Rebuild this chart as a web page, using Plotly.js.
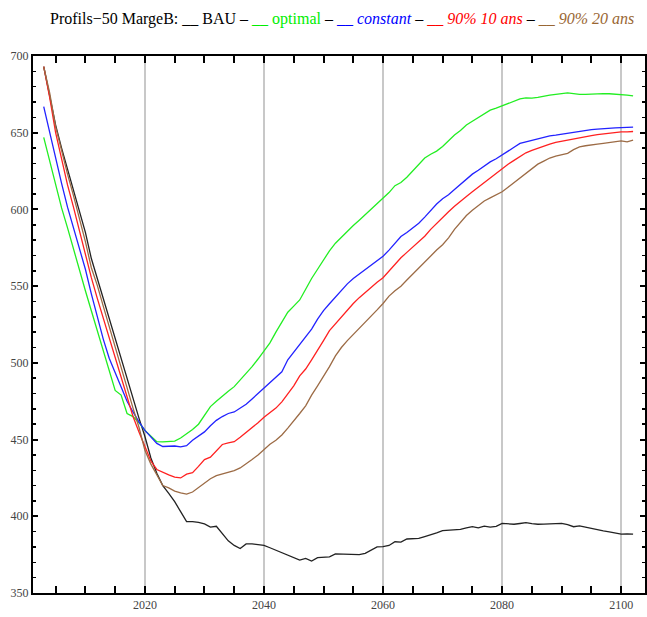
<!DOCTYPE html>
<html>
<head>
<meta charset="utf-8">
<script src="https://cdn.plot.ly/plotly-3.0.1.min.js"></script>
<style>html,body{margin:0;padding:0;background:#fff;}#chart{width:647px;height:617px;}</style>
</head>
<body>
<div id="chart"></div>
<script>
const years = [2003,2004,2005,2006,2007,2008,2009,2010,2011,2012,2013,2014,2015,2016,2017,2018,2019,2020,2021,2022,2023,2024,2025,2026,2027,2028,2029,2030,2031,2032,2033,2034,2035,2036,2037,2038,2039,2040,2041,2042,2043,2044,2045,2046,2047,2048,2049,2050,2051,2052,2053,2054,2055,2056,2057,2058,2059,2060,2061,2062,2063,2064,2065,2066,2067,2068,2069,2070,2071,2072,2073,2074,2075,2076,2077,2078,2079,2080,2081,2082,2083,2084,2085,2086,2087,2088,2089,2090,2091,2092,2093,2094,2095,2096,2097,2098,2099,2100,2101,2102];

const bau = [693,675,655,640,626,612,599,585,568,555,541,528,515,502,490,477,464,452,438,428,420,415,409.5,403,396.5,396.5,396,395,393,393.5,389,384,381,379,382,382,381.5,381,379.5,378,376.5,375,373.5,371.5,372.6,370.8,373,373.4,373.6,375.5,375.3,375.1,375,375,375.8,378,380,380.2,381,383.4,383.2,385.2,385.4,385.6,386.8,387.8,389.2,390.6,390.8,391,391.5,392.5,393.2,392.5,393.6,393,393.4,395.4,395,394.8,395.3,395.8,395.2,394.8,394.9,395,395.2,395.4,394.5,393.2,393.8,393,391.8,391,390.5,389.9,389,388.4,388.6,388.4];

const optimal = [647,632,617,601,588,574,560,547,534,521,508,494.5,482,479,467,465,461,456,452,448.6,448.5,448.6,449,451,453.5,456.5,460,466,471.5,475,478.5,481.5,484.5,488.8,493,497.5,502.5,507.5,513,520,527,533,537,541,548,555,561,567,573,578,582,586,589.5,593,596.5,600,603.5,607,611,615.5,617.5,621,625,629.5,633.5,636,638,641,645,648.5,651.5,655,657.5,660,662.5,664.7,666,667.5,669,670.5,672,672.7,672.5,673,674,674.5,675,675.5,676,675.5,675,675,675.3,675.6,675.5,675.4,675.2,675,674.5,674];

const constant = [667,650,633,617,601.5,588,576,561,545,530,515.5,503,494,485,475,468,461.5,456,451.5,447.5,445.5,445.5,445.8,445.2,446,449.5,452.5,455,459,462.5,465,467,468,470.5,473,476.5,480,483.4,487,490.5,494.2,502,507,512,516.5,522,528.5,534,538.5,543,547.5,551.5,555,558,561,564,567,569.5,573.5,578,582.3,585,588,591,595,599.5,603.5,607,609.5,613,616.5,620,623,625.5,628.5,631,633,635.3,638,640.5,643,644,645,646.3,647,648,648.4,649,650,650.6,651,651.5,652,652.4,652.8,653,653.2,653.3,653.4,653.6];

const p90_10 = [693,673,650,632,616,601.5,586,570,555.5,542,529,516,503,490,476.5,465,455,445.4,436,430.5,428.5,427,425.5,425,427.5,428.4,432.5,437,438.5,442.5,446.8,447.8,448.6,451.5,454.5,458,461,464.5,467.5,470.5,474.6,479.5,485,491.5,496,502,508,514.5,521,525.5,530,534.5,538.7,542.5,546,549.5,552.5,555.5,560,564.5,568.5,572,575.5,578.5,582.5,587,591,595,598.5,602,605.5,608.5,611.5,614.5,617.5,620.5,623.5,626.7,629.5,632,634.5,636.9,638.5,640,641.3,642.5,643.7,644.5,645.3,646.1,646.9,647.5,648.1,648.7,649.2,649.7,650.1,650.6,650.5,650.8];

const p90_20 = [693,676,654,638,623,609,594,579,562,550.5,537,523.5,510,497,483.5,470.5,458,443,434,426.5,420,418.5,416.4,415.2,414.5,415.8,418.5,421.5,424.5,426.5,427.5,428.5,429.8,431.5,434,437,440,443.5,447,449.5,453,457.5,462,467,472,479,485,491,497.5,504.5,510,514.5,518.5,522.5,526,530,534.5,538.7,543.5,547,550,554,558,562,566,570,573.5,577,581.5,587,591.5,596,599.5,602.3,605.5,607.5,609.5,611.5,614.5,617.5,620.5,624,627,629.5,631.5,633.5,634.8,635.8,636.6,639,640.8,641.5,642.2,642.6,643.1,643.6,644.1,644.7,644,645.1];

const seriesNames = ["BAU","optimal","constant","90% 10 ans","90% 20 ans"];
const seriesColors = ["#222222","#22ee22","#2222ff","#ff2020","#9c6b45"];
const seriesData = [bau, optimal, constant, p90_10, p90_20];

const xTickVals = [2020,2040,2060,2080,2100];
const xTickText = ["2020","2040","2060","2080","2100"];
const yTickVals = [350,400,450,500,550,600,650,700];
const yTickText = ["350","400","450","500","550","600","650","700"];

const traces = seriesData.map((d, i) => ({
  type: "scatter", mode: "lines", x: years, y: d, name: seriesNames[i],
  line: {color: seriesColors[i], width: 1.3}, hoverinfo: "skip"
}));

const sep = ' <span style="color:#000">–</span> ';
const titleText =
  '<span style="color:#000">Profils−50 MargeB: __ BAU</span>' + sep +
  '<span style="color:#00ee00">__ optimal</span>' + sep +
  '<span style="color:#0000ff">__ <i>constant</i></span>' + sep +
  '<span style="color:#ff0000">__ <i>90% 10 ans</i></span>' + sep +
  '<span style="color:#996633">__ <i>90% 20 ans</i></span>';

const tickFont = {family: "Liberation Serif, Times New Roman, serif", size: 12, color: "#444"};

const layout = {
  width: 647, height: 617,
  margin: {l: 33, r: 2, t: 56, b: 24, pad: 0},
  paper_bgcolor: "#fff", plot_bgcolor: "#fff",
  showlegend: false,
  title: {
    text: titleText,
    font: {family: "Liberation Serif, Times New Roman, serif", size: 16, color: "#000"},
    x: 50/647, xanchor: "left", xref: "container",
    y: 1 - 18/617, yanchor: "middle", yref: "container"
  },
  xaxis: {
    range: [2001.2, 2104.0],
    tickmode: "array", tickvals: xTickVals, ticktext: xTickText,
    ticks: "inside", ticklen: 7, tickwidth: 2, tickcolor: "#000",
    showline: true, linecolor: "#000", linewidth: 2, mirror: "allticks",
    showgrid: true, gridcolor: "#c8c8c8", gridwidth: 1.6,
    zeroline: false, tickfont: tickFont,
    minor: {dtick: 5, tick0: 2000, ticks: "inside", ticklen: 7, tickwidth: 2, tickcolor: "#000", showgrid: false}
  },
  yaxis: {
    range: [350, 700],
    tickmode: "array", tickvals: yTickVals, ticktext: yTickText,
    ticks: "inside", ticklen: 5, tickwidth: 2, tickcolor: "#000",
    showline: true, linecolor: "#000", linewidth: 2, mirror: "allticks",
    showgrid: false, zeroline: false, tickfont: tickFont,
    minor: {dtick: 10, tick0: 350, ticks: "inside", ticklen: 3, tickwidth: 1.5, tickcolor: "#000", showgrid: false}
  }
};

Plotly.newPlot("chart", traces, layout, {displayModeBar: false, staticPlot: true});
</script>
</body>
</html>
